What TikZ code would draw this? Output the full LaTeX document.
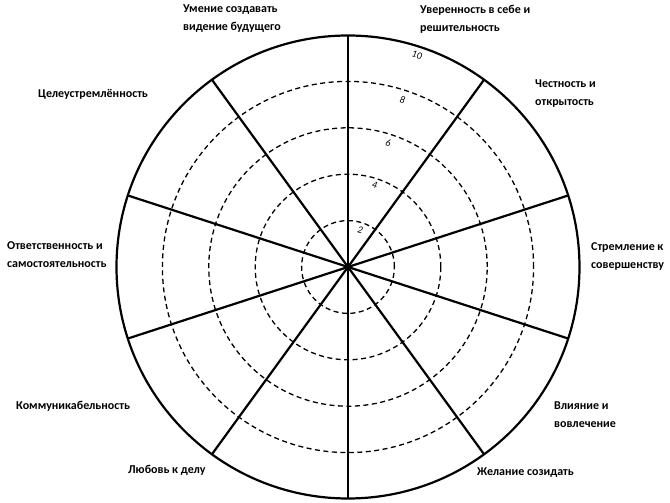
\documentclass[tikz,border=0pt]{standalone}
\usepackage{fontspec}
\setmainfont{Carlito}
\tikzset{
	spoke/.style={line width=2.2pt},
	ring/.style={line width=1.3pt, dash pattern=on 5pt off 3.5pt},
	factor/.style={font=\bfseries\fontsize{12}{18}\selectfont, align=left, anchor=west, inner sep=0pt},
	score/.style={font=\itshape\fontsize{10}{10}\selectfont, rotate=-15, inner sep=0pt}
}
\begin{document}
\begin{tikzpicture}[x=1pt,y=1pt]
			\useasboundingbox (-348,-236) rectangle (322,267);
			\coordinate (c) at (0,0);
			\foreach \r in {1,...,4}
				\draw[ring] (c) circle[radius=46.4*\r];
			\draw[line width=2.2pt] (c) circle[radius=231.5];
			\foreach \a in {90,54,...,-234}
				\draw[spoke] (c) -- (\a:231.5);
			\foreach \v/\rr in {2/39,4/86,6/130,8/176,10/223}
				\node[score] (s\v) at (72:\rr) {\v};
			\node[factor] (umenie) at (-165,248) {Умение создавать\\видение будущего};
			\node[factor] (uverennost) at (72,248) {Уверенность в себе и\\решительность};
			\node[factor] (chestnost) at (187,173) {Честность и\\открытость};
			\node[factor] (stremlenie) at (243,10) {Стремление к\\совершенству};
			\node[factor] (vliyanie) at (206,-147.5) {Влияние и\\вовлечение};
			\node[factor] (zhelanie) at (129,-206) {Желание созидать};
			\node[factor] (lyubov) at (-220,-203) {Любовь к делу};
			\node[factor] (kommunik) at (-332,-139) {Коммуникабельность};
			\node[factor] (otvetstv) at (-341,12) {Ответственность и\\самостоятельность};
			\node[factor] (tseleustr) at (-310,173) {Целеустремлённость};
		\end{tikzpicture}
\end{document}
